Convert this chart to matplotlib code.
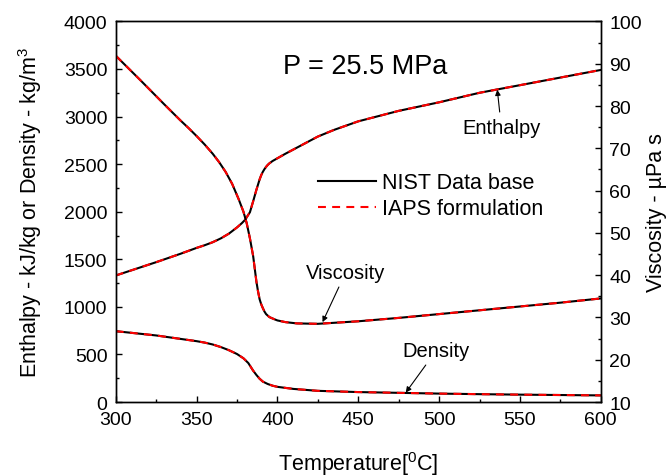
import matplotlib
matplotlib.use("Agg")
import matplotlib.pyplot as plt
from matplotlib.ticker import MultipleLocator

plt.rcParams['font.family'] = ['Liberation Sans', 'DejaVu Sans']
plt.rcParams['mathtext.fontset'] = 'custom'
plt.rcParams['mathtext.rm'] = 'Liberation Sans'

# Enthalpy (kJ/kg), left axis
temp_h = [300, 325, 340, 350, 355, 360, 365, 370, 375, 378, 380, 383, 385, 387, 389, 390, 391,
          392, 393, 394, 395, 397, 400, 405, 410, 425, 435, 450, 475, 500, 525, 550, 575, 600]
enthalpy = [1330, 1470, 1558, 1620, 1648, 1680, 1720, 1770, 1835, 1880, 1915, 1995, 2110, 2230, 2340, 2385, 2420,
            2448, 2472, 2492, 2508, 2533, 2562, 2610, 2655, 2790, 2860, 2950, 3060, 3150, 3250, 3330, 3410, 3490]

# Density (kg/m3), left axis
temp_rho = [300, 325, 350, 355, 360, 365, 370, 375, 379, 382, 385, 387, 389, 391, 394, 397,
            400, 410, 425, 450, 475, 500, 525, 550, 575, 600]
density = [745, 700, 640, 625, 605, 578, 545, 505, 460, 410, 330, 285, 245, 215, 190, 172,
           160, 138, 118, 105, 97, 89, 83, 78, 74, 70]

# Viscosity (uPa s), right axis
temp_mu = [300, 315, 330, 340, 345, 350, 355, 360, 364, 368, 372, 376, 379, 381, 383, 385, 386, 387, 388,
           389, 390, 391, 392, 393, 395, 398, 400, 405, 412, 425, 450, 475, 500, 525, 550, 575, 600]
viscosity = [91.9, 86.2, 80.4, 76.6, 74.8, 72.9, 70.9, 68.7, 66.7, 64.4, 61.6, 58.0, 55.0, 52.3, 48.7, 44.5, 41.5, 38.5, 36.2,
             34.3, 33.1, 32.2, 31.4, 30.8, 30.1, 29.6, 29.3, 28.9, 28.6, 28.5, 29.1, 29.9, 30.8, 31.7, 32.6, 33.5, 34.5]

# the IAPS formulation lies on top of the NIST values
iaps_enthalpy = enthalpy
iaps_density = density
iaps_viscosity = viscosity

fig, ax = plt.subplots(figsize=(6.69, 4.77), dpi=100)
fig.subplots_adjust(left=0.173, right=0.898, bottom=0.155, top=0.953)
ax2 = ax.twinx()

dash = (0, (3.8, 3.0))
lw = 1.5
l1, = ax.plot(temp_h, enthalpy, color='black', lw=lw, label='NIST Data base')
ax.plot(temp_rho, density, color='black', lw=lw)
ax2.plot(temp_mu, viscosity, color='black', lw=lw)
l2, = ax.plot(temp_h, iaps_enthalpy, color='red', lw=lw, ls=dash, label='IAPS formulation')
ax.plot(temp_rho, iaps_density, color='red', lw=lw, ls=dash)
ax2.plot(temp_mu, iaps_viscosity, color='red', lw=lw, ls=dash)

ax.set_xlim(300, 600)
ax.set_ylim(0, 4000)
ax2.set_ylim(10, 100)
ax.xaxis.set_major_locator(MultipleLocator(50))
ax.xaxis.set_minor_locator(MultipleLocator(25))
ax.yaxis.set_major_locator(MultipleLocator(500))
ax.yaxis.set_minor_locator(MultipleLocator(250))
ax2.yaxis.set_major_locator(MultipleLocator(10))
ax2.yaxis.set_minor_locator(MultipleLocator(5))

ax.tick_params(axis='both', which='both', direction='in', labelsize=14, width=1.0)
ax.tick_params(which='major', length=4)
ax.tick_params(which='minor', length=2.5)
ax.tick_params(axis='y', pad=6)
ax.tick_params(axis='x', pad=6.5)
ax2.tick_params(axis='y', which='both', direction='in', labelsize=14, width=1.0, pad=6)
ax2.tick_params(which='major', length=4)
ax2.tick_params(which='minor', length=2.5)
for a in (ax, ax2):
    for s in a.spines.values():
        s.set_linewidth(1.0)

ax.set_xlabel(r'Temperature[$^\mathrm{0}$C]', fontsize=15.5, labelpad=15)
ax.set_ylabel(r'Enthalpy - kJ/kg or Density - kg/m$^\mathrm{3}$', fontsize=15.5, labelpad=14)
ax2.set_ylabel('Viscosity - µPa s', fontsize=15.5, labelpad=3)

ax.text(454, 3530, 'P = 25.5 MPa', fontsize=19.5, ha='center', va='center')

arrow = dict(arrowstyle='-|>', color='black', lw=0.8, mutation_scale=8, shrinkA=2, shrinkB=0)
ax.annotate('Enthalpy', xy=(536, 3282), xytext=(538.5, 2890), fontsize=14.5,
            ha='center', va='center', arrowprops=arrow)
ax.annotate('Density', xy=(479.4, 100), xytext=(498.3, 542), fontsize=14.5,
            ha='center', va='center', arrowprops=arrow)
ax2.annotate('Viscosity', xy=(427.9, 28.9), xytext=(442.3, 40.7), fontsize=14.5,
             ha='center', va='center', arrowprops=arrow)

ax2.legend(handles=[l1, l2], loc='center left', bbox_to_anchor=(0.4165, 0.542),
           frameon=False, fontsize=15.5, handlelength=2.7, handletextpad=0.3,
           labelspacing=0.25, borderpad=0, borderaxespad=0)

fig.savefig('out.png', dpi=100)
